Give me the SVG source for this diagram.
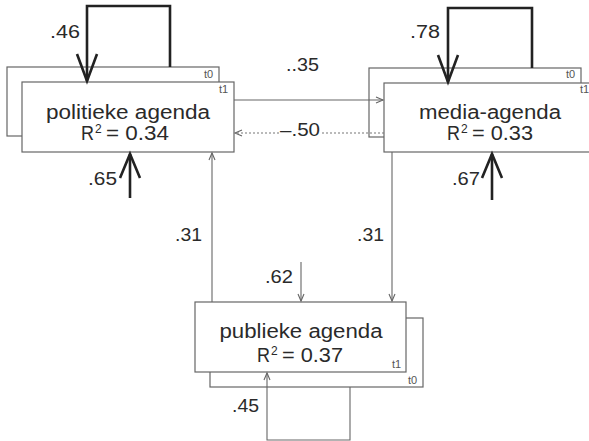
<svg xmlns="http://www.w3.org/2000/svg" width="589" height="441" viewBox="0 0 589 441">
  <style>
    .box { fill: #fff; stroke: #666; stroke-width: 1.2; }
    .name { font-family: "Liberation Sans", Arial, sans-serif; font-size: 20px; fill: #2a2a2a; text-anchor: middle; }
    .r2 { font-family: "Liberation Sans", Arial, sans-serif; font-size: 20px; fill: #2a2a2a; }
    .sup { font-family: "Liberation Sans", Arial, sans-serif; font-size: 12px; fill: #2a2a2a; }
    .coef { font-family: "Liberation Sans", Arial, sans-serif; font-size: 18px; fill: #2a2a2a; }
    .tag { font-family: "Liberation Sans", Arial, sans-serif; font-size: 11px; fill: #555; }
    .thin { fill: none; stroke: #666; stroke-width: 1.1; }
    .dot { fill: none; stroke: #777; stroke-width: 1.1; stroke-dasharray: 2 2; }
    .thick { fill: none; stroke: #222; stroke-width: 2.6; }
    .head { fill: none; stroke: #666; stroke-width: 1.1; }
    .bighead { fill: none; stroke: #222; stroke-width: 2.6; stroke-linejoin: miter; }
  </style>

  <rect width="589" height="441" fill="#fff"/>

  <!-- politieke agenda -->
  <g id="politieke">
    <rect class="box" x="7" y="67" width="212" height="69"/>
    <text class="tag" x="204" y="78">t0</text>
    <rect class="box" x="22" y="82" width="212" height="70"/>
    <text class="tag" x="219" y="93">t1</text>
    <text class="name" x="128" y="119" textLength="164" lengthAdjust="spacingAndGlyphs">politieke agenda</text>
    <text class="r2" x="81" y="140" textLength="13" lengthAdjust="spacingAndGlyphs">R</text>
    <text class="sup" x="95" y="133">2</text>
    <text class="r2" x="106" y="140" textLength="63" lengthAdjust="spacingAndGlyphs">= 0.34</text>
  </g>

  <!-- media-agenda -->
  <g id="media">
    <rect class="box" x="369" y="68" width="212" height="69"/>
    <text class="tag" x="566" y="78">t0</text>
    <rect class="box" x="384" y="83" width="212" height="69"/>
    <text class="tag" x="580" y="93">t1</text>
    <text class="name" x="490" y="119" textLength="142" lengthAdjust="spacingAndGlyphs">media-agenda</text>
    <text class="r2" x="447" y="140" textLength="13" lengthAdjust="spacingAndGlyphs">R</text>
    <text class="sup" x="461" y="133">2</text>
    <text class="r2" x="472" y="140" textLength="61" lengthAdjust="spacingAndGlyphs">= 0.33</text>
  </g>

  <!-- publieke agenda -->
  <g id="publieke">
    <rect class="box" x="210" y="318" width="213" height="69"/>
    <text class="tag" x="408" y="384">t0</text>
    <rect class="box" x="195" y="302" width="211" height="70"/>
    <text class="tag" x="392" y="368">t1</text>
    <text class="name" x="301" y="338" textLength="163" lengthAdjust="spacingAndGlyphs">publieke agenda</text>
    <text class="r2" x="257" y="362" textLength="13" lengthAdjust="spacingAndGlyphs">R</text>
    <text class="sup" x="271" y="355">2</text>
    <text class="r2" x="282" y="362" textLength="61" lengthAdjust="spacingAndGlyphs">= 0.37</text>
  </g>

  <!-- connectors -->
  <g id="connectors">
    <!-- autoregression politieke agenda -->
    <polyline class="thick" points="170,67 170,6 87,6 87,81"/>
    <polyline class="bighead" points="77,54 87,81 97,54"/>
    <!-- residual politieke agenda -->
    <line class="thick" x1="130" y1="198" x2="130" y2="154"/>
    <polyline class="bighead" points="120,178 130,154 140,178"/>

    <!-- autoregression media-agenda -->
    <polyline class="thick" points="532,68 532,8 448,8 448,82"/>
    <polyline class="bighead" points="438,55 448,82 458,55"/>
    <!-- residual media-agenda -->
    <line class="thick" x1="492" y1="200" x2="492" y2="154"/>
    <polyline class="bighead" points="482,178 492,154 502,178"/>

    <!-- politieke -> media -->
    <line class="thin" x1="234" y1="100" x2="383" y2="100"/>
    <polyline class="head" points="376,97 383,100 376,103"/>
    <!-- media -> politieke (dotted) -->
    <line class="dot" x1="384" y1="133" x2="322" y2="133"/>
    <line class="dot" x1="279" y1="133" x2="236" y2="133"/>
    <polyline class="head" points="242,130 235,133 242,136"/>

    <!-- publieke -> politieke -->
    <line class="thin" x1="212" y1="302" x2="212" y2="153"/>
    <polyline class="head" points="209,160 212,153 215,160"/>
    <!-- media -> publieke -->
    <line class="thin" x1="392" y1="152" x2="392" y2="301"/>
    <polyline class="head" points="389,294 392,301 395,294"/>
    <!-- residual publieke -->
    <line class="thin" x1="301" y1="262" x2="301" y2="301"/>
    <polyline class="head" points="298,294 301,301 304,294"/>
    <!-- autoregression publieke -->
    <polyline class="thin" points="350,387 350,440 267,440 267,373"/>
    <polyline class="head" points="264,380 267,373 270,380"/>

    <!-- coefficients -->
    <text class="coef" x="50" y="38" textLength="30" lengthAdjust="spacingAndGlyphs">.46</text>
    <text class="coef" x="410" y="38" textLength="30" lengthAdjust="spacingAndGlyphs">.78</text>
    <text class="coef" x="286" y="71" textLength="33" lengthAdjust="spacingAndGlyphs">..35</text>
    <text class="coef" x="280" y="136" textLength="40" lengthAdjust="spacingAndGlyphs">–.50</text>
    <text class="coef" x="88" y="185" textLength="29" lengthAdjust="spacingAndGlyphs">.65</text>
    <text class="coef" x="452" y="185" textLength="28" lengthAdjust="spacingAndGlyphs">.67</text>
    <text class="coef" x="175" y="241" textLength="27" lengthAdjust="spacingAndGlyphs">.31</text>
    <text class="coef" x="357" y="241" textLength="27" lengthAdjust="spacingAndGlyphs">.31</text>
    <text class="coef" x="265" y="283" textLength="28" lengthAdjust="spacingAndGlyphs">.62</text>
    <text class="coef" x="232" y="412" textLength="27" lengthAdjust="spacingAndGlyphs">.45</text>
  </g>
</svg>
